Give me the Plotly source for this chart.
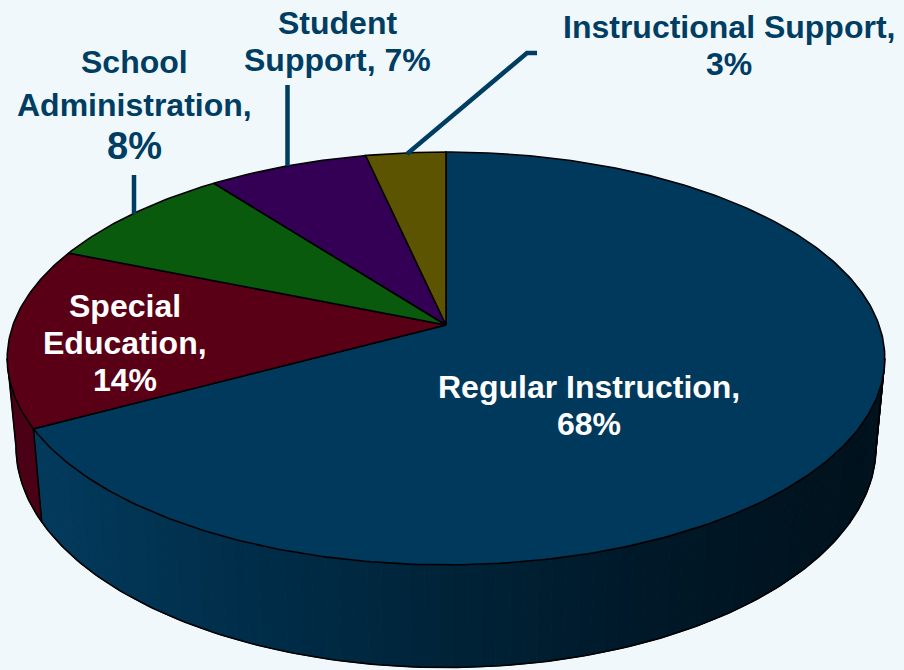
import numpy as np
import plotly.graph_objects as go

categories = ["Regular Instruction", "Special Education", "School Administration", "Student Support", "Instructional Support"]
shares = [67.1, 14.1, 8.45, 6.9, 3.45]   # slice sizes
percent_labels = ["68%", "14%", "8%", "7%", "3%"]   # labels as printed in the picture

top_colors = ["#00395c", "#5a0016", "#0a5a0e", "#330055", "#5c5400"]
wall_colors = [None, "#4a0015", "#0a4a0c", "#280044", "#4a4400"]
wall_stops_x = [40, 250, 450, 650, 860]
wall_stops_rgb = [(3, 58, 92), (0, 45, 73), (0, 35, 56), (0, 24, 40), (0, 18, 29)]
NAVY = "#003d63"

# pie projection
CX, APEX_Y, RX, RY, K, DEPTH, SHRINK = 446.0, 325.0, 433.0, 201.0, 0.162, 86.0, 0.98


def top_pt(theta):
    u, v = np.sin(theta), np.cos(theta)
    d = 1 + K * v
    return CX + RX * u / d, APEX_Y - RY * v / d


def low_pt(theta):
    x, y = top_pt(theta)
    return CX + (x - CX) * SHRINK, y + DEPTH / (1 + K * np.cos(theta))


def shade(x):
    return "rgb(%d,%d,%d)" % tuple(
        int(round(np.interp(x, wall_stops_x, [c[i] for c in wall_stops_rgb]))) for i in range(3)
    )


def poly(xs, ys, fill, line="#000000", width=1.6):
    return go.Scatter(x=list(xs), y=list(ys), mode="lines", fill="toself", fillcolor=fill,
                      line=dict(color=line, width=width), hoverinfo="skip", showlegend=False)


def path(xs, ys, color="#000000", width=1.6):
    return go.Scatter(x=list(xs), y=list(ys), mode="lines", line=dict(color=color, width=width),
                      hoverinfo="skip", showlegend=False)


edges = np.cumsum([0] + shares) / sum(shares) * 2 * np.pi
sil_r = np.arccos(-K)
sil_l = 2 * np.pi - sil_r

fig = go.Figure()

# walls of the two wedges that face the viewer
reg_end = edges[1]
steps = np.linspace(sil_r, reg_end, 90)
for a, b in zip(steps[:-1], steps[1:]):
    t = np.array([a, b])
    xt, yt = top_pt(t)
    xl, yl = low_pt(t[::-1])
    col = shade((xt.mean()))
    fig.add_trace(poly(np.r_[xt, xl, xt[0]], np.r_[yt, yl, yt[0]], col, line=col, width=1))

t = np.linspace(reg_end, sil_l, 30)
xt, yt = top_pt(t)
xl, yl = low_pt(t[::-1])
fig.add_trace(poly(np.r_[xt, xl, xt[0]], np.r_[yt, yl, yt[0]], wall_colors[1], line=wall_colors[1], width=1))

# wall outlines
t = np.linspace(sil_r, sil_l, 200)
fig.add_trace(path(*low_pt(t)))
for a in (sil_r, sil_l, reg_end):
    xa, ya = top_pt(a)
    xb, yb = low_pt(a)
    fig.add_trace(path([xa, xb], [ya, yb]))

# top faces
for i in range(len(shares)):
    t = np.linspace(edges[i], edges[i + 1], max(int((edges[i + 1] - edges[i]) * 80), 12))
    xs, ys = top_pt(t)
    fig.add_trace(poly(np.r_[CX, xs, CX], np.r_[APEX_Y, ys, APEX_Y], top_colors[i]))

# leader lines
leaders = [
    ([134, 134], [175, 214]),
    ([287.5, 287.5], [85, 166]),
    ([537, 527, 407], [53, 53, 154]),
]
for lx, ly in leaders:
    fig.add_trace(path(lx, ly, color=NAVY, width=4.5))

text_lines = [
    ("Student", 337, 23, 32, NAVY),
    ("Support, " + percent_labels[3], 337, 60, 32, NAVY),
    ("Instructional Support,", 729, 27, 32, NAVY),
    (percent_labels[4], 729, 64, 32, NAVY),
    ("School", 134, 62, 32, NAVY),
    ("Administration,", 134, 105, 32, NAVY),
    (percent_labels[2], 134, 146, 38, NAVY),
    ("Special", 125, 306, 32, "#ffffff"),
    ("Education,", 125, 343, 32, "#ffffff"),
    (percent_labels[1], 125, 380, 32, "#ffffff"),
    ("Regular Instruction,", 589, 387, 32, "#ffffff"),
    (percent_labels[0], 589, 424, 32, "#ffffff"),
]
annots = [
    dict(text="<b>%s</b>" % s, x=x, y=y, xref="x", yref="y", showarrow=False, xanchor="center",
         yanchor="middle", font=dict(family="Liberation Sans, Arial, sans-serif", size=sz, color=c))
    for s, x, y, sz, c in text_lines
]

fig.update_layout(
    width=904, height=670, margin=dict(l=0, r=0, t=0, b=0),
    paper_bgcolor="#f1f8fb", plot_bgcolor="#f1f8fb", showlegend=False, hovermode=False,
    xaxis=dict(range=[0, 904], visible=False, fixedrange=True),
    yaxis=dict(range=[670, 0], visible=False, fixedrange=True),
    annotations=annots,
)
fig.write_html("out.html", config={"displayModeBar": False},
               post_script="document.body.style.margin='0';document.body.style.background='#f1f8fb';")
